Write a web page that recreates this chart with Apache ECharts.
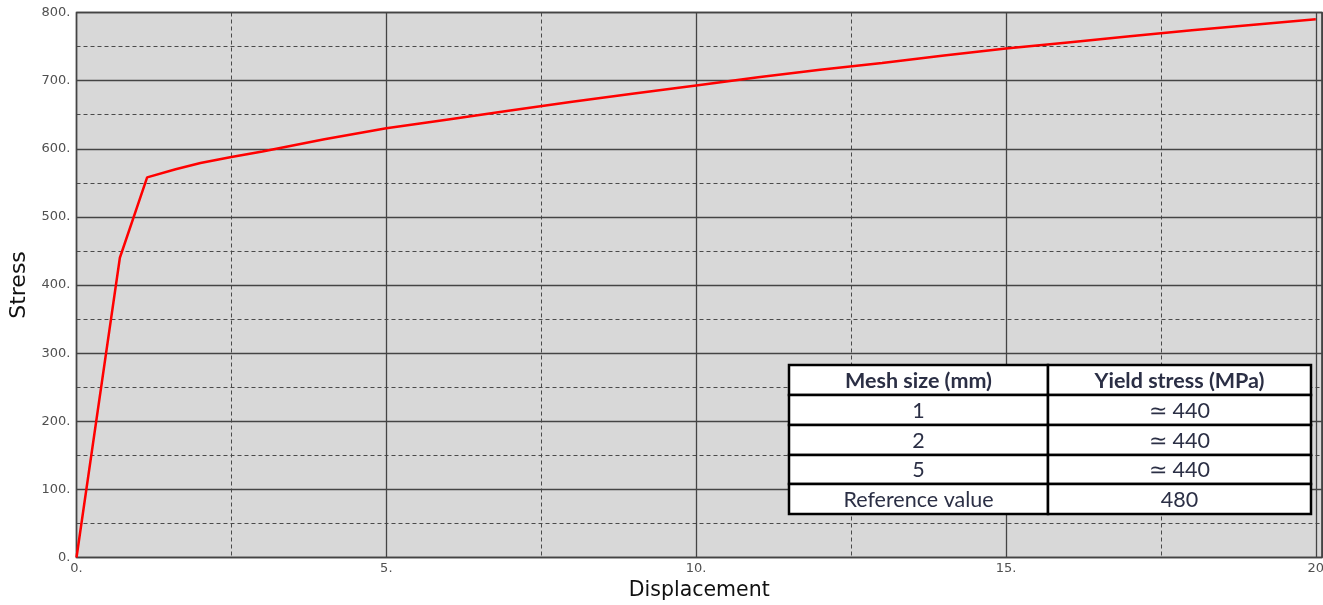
<!DOCTYPE html>
<html>
<head>
<meta charset="utf-8">
<title>Stress vs Displacement</title>
<script src="https://cdn.jsdelivr.net/npm/echarts@6/dist/echarts.min.js"></script>
<style>
  html, body { margin: 0; padding: 0; background: #ffffff; }
  #chart { width: 1323px; height: 605px; }
</style>
</head>
<body>
<div id="chart"></div>
<script>
// Stress–displacement curve
const displacement = [0, 0.7, 1.14, 1.6, 2.0, 2.5, 3.0, 4.0, 5.0, 6.0, 7.0, 8.0, 9.0, 10.0, 11.0, 12.0, 13.0, 14.0, 15.0, 16.0, 17.0, 18.0, 19.0, 20.0];
const stress       = [0, 440, 558, 570, 579, 588, 596, 614, 630, 643, 656, 669, 681, 693, 705, 716, 726, 737, 747, 756, 765, 774, 782, 790];

// Tick labels
const xTickValues = [0, 5, 10, 15, 20];
const xTickLabels = ['0.', '5.', '10.', '15.', '20'];
const yTickValues = [0, 100, 200, 300, 400, 500, 600, 700, 800];
const yTickLabels = ['0.', '100.', '200.', '300.', '400.', '500.', '600.', '700.', '800.'];

// Yield-stress table
const tableHeader = ['Mesh size (mm)', 'Yield stress (MPa)'];
const meshSizes   = ['1', '2', '5', 'Reference value'];
const yieldStress = ['\u2243 440', '\u2243 440', '\u2243 440', '480'];

function lookup(values, labels, v) {
  for (let i = 0; i < values.length; i++) {
    if (Math.abs(values[i] - v) < 1e-9) return labels[i];
  }
  return '';
}

const tickFont = { fontFamily: 'DejaVu Sans', fontSize: 13, color: '#505050' };

// Table drawn as graphic cells
function buildTable() {
  const left = 789, top = 365;
  const colW = [259, 263];
  const rowH = [30, 30, 30, 29, 30];
  const rows = [tableHeader].concat(meshSizes.map((m, i) => [m, yieldStress[i]]));
  const children = [];
  let y = top;
  rows.forEach((row, r) => {
    let x = left;
    row.forEach((txt, c) => {
      children.push({
        type: 'rect',
        shape: { x: x, y: y, width: colW[c], height: rowH[r] },
        style: { fill: '#ffffff', stroke: '#000000', lineWidth: 2.5 },
        z: 100
      });
      children.push({
        type: 'text',
        x: x + colW[c] / 2,
        y: y + rowH[r] / 2 + 1,
        style: {
          text: txt,
          fill: '#2b2f45',
          font: (r === 0 ? 'bold ' : '') + '21.5px Lato, "Open Sans", sans-serif',
          align: 'center',
          verticalAlign: 'middle'
        },
        z: 101
      });
      x += colW[c];
    });
    y += rowH[r];
  });
  return children;
}

const chart = echarts.init(document.getElementById('chart'), null, { renderer: 'canvas' });

const option = {
  animation: false,
  backgroundColor: '#ffffff',
  grid: {
    left: 76.5, top: 12.5, right: 1, bottom: 47.5,
    outerBoundsMode: 'none',
    containLabel: false,
    show: true,
    backgroundColor: '#d8d8d8',
    borderColor: '#333333',
    borderWidth: 1.5
  },
  xAxis: [
    {
      type: 'value', min: 0, max: 20.1, interval: 5, z: 2,
      name: 'Displacement', nameLocation: 'middle', nameGap: 23,
      nameTextStyle: { fontFamily: 'DejaVu Sans', fontSize: 20.5, color: '#111111' },
      axisLine: { show: false }, axisTick: { show: false },
      axisLabel: { ...tickFont, margin: 5, formatter: v => lookup(xTickValues, xTickLabels, v) },
      splitLine: { show: true, lineStyle: { color: '#444444', width: 1.3, type: 'solid' } }
    },
    {
      type: 'value', min: 0, max: 20.1, interval: 2.5, z: 1,
      axisLine: { show: false }, axisTick: { show: false }, axisLabel: { show: false },
      splitLine: { show: true, lineStyle: { color: '#4a4a4a', width: 1, type: [4, 3] } }
    }
  ],
  yAxis: [
    {
      type: 'value', min: 0, max: 800, interval: 100, z: 2,
      name: 'Stress', nameLocation: 'middle', nameGap: 41,
      nameTextStyle: { fontFamily: 'DejaVu Sans', fontSize: 22, color: '#111111' },
      axisLine: { show: false }, axisTick: { show: false },
      axisLabel: { ...tickFont, margin: 6, formatter: v => lookup(yTickValues, yTickLabels, v) },
      splitLine: { show: true, lineStyle: { color: '#444444', width: 1.3, type: 'solid' } }
    },
    {
      type: 'value', min: 0, max: 800, interval: 50, z: 1,
      axisLine: { show: false }, axisTick: { show: false }, axisLabel: { show: false },
      splitLine: { show: true, lineStyle: { color: '#4a4a4a', width: 1, type: [4, 3] } }
    }
  ],
  series: [
    {
      type: 'line',
      xAxisIndex: 0, yAxisIndex: 0,
      data: displacement.map((d, i) => [d, stress[i]]),
      showSymbol: false,
      symbol: 'none',
      lineStyle: { color: '#ff0000', width: 2.5 },
      z: 5
    }
  ],
  graphic: buildTable()
};

chart.setOption(option);
</script>
</body>
</html>
